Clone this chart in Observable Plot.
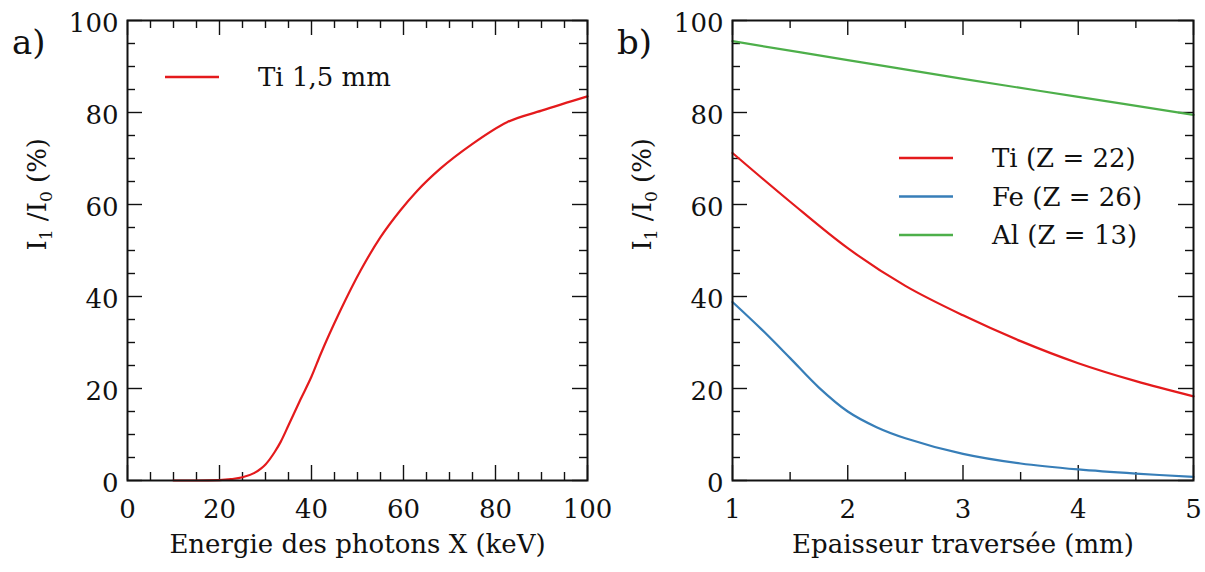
<!DOCTYPE html>
<html><head><meta charset="utf-8">
<script src="https://cdn.jsdelivr.net/npm/d3@7"></script>
<script src="https://cdn.jsdelivr.net/npm/@observablehq/plot@0.6"></script>
<style>
body{margin:0;background:#fff}
#wrap{position:relative;width:1205px;height:572px;overflow:hidden}
#wrap svg{position:absolute;top:0;overflow:visible}
</style>
</head><body><div id="wrap"></div>
<script>
// ---- data ----
const energyKeV = [10, 15, 20, 22.5, 25, 27.5, 29, 30, 32, 33.3, 35, 37.6, 40, 42, 46.3, 50.7, 55, 59.3, 63, 68, 75, 82.5, 90, 100];
const tiTransmission = [0, 0, 0.1, 0.3, 0.7, 1.6, 2.6, 3.5, 6.2, 8.4, 12, 17.6, 22.6, 27.5, 37, 45.7, 52.9, 58.7, 63.0, 67.8, 73.2, 77.9, 80.4, 83.5];

const thicknessTi = [1, 1.5, 2, 2.5, 3, 3.5, 4, 4.5, 5];
const ti = [71.2, 60.6, 50.5, 42.3, 35.9, 30.3, 25.5, 21.6, 18.3];
const thicknessFe = [1, 1.25, 1.5, 1.75, 2, 2.25, 2.5, 3, 3.5, 4, 4.5, 5];
const fe = [38.8, 32.9, 26.6, 20.2, 15.0, 11.6, 9.2, 5.8, 3.7, 2.4, 1.5, 0.8];
const thicknessAl = [1, 2, 3, 4, 5];
const al = [95.5, 91.4, 87.3, 83.4, 79.5];

const seriesNames = ["Ti (Z = 22)", "Fe (Z = 26)", "Al (Z = 13)"];
const seriesColors = ["#e41a1c", "#377eb8", "#4daf4a"];

const yMajor = [0, 20, 40, 60, 80, 100];
const yMinor = [5, 10, 15, 25, 30, 35, 45, 50, 55, 65, 70, 75, 85, 90, 95];
const xMajorA = [0, 20, 40, 60, 80, 100];
const xMinorA = [5, 10, 15, 25, 30, 35, 45, 50, 55, 65, 70, 75, 85, 90, 95];
const xMajorB = [1, 2, 3, 4, 5];
const xMinorB = [1.5, 2.5, 3.5, 4.5];

// y label pieces: [text, isSubscript]
const yLabelParts = [["I", false], ["1", true], [" /I", false], ["0", true], [" (%)", false]];
const yLabel = "I1 /I0 (%)";
const xLabelA = "Energie des photons X (keV)";
const xLabelB = "Epaisseur traversée (mm)";
const legendA = ["Ti 1,5 mm"];
const panelLabels = ["a)", "b)"];

const FONT = "DejaVu Serif";
const H = 572, MT = 20, MB = 92;
const IH = H - MT - MB;
const MAJ = 15, MIN = 8;

function tickMarks(xMaj, xMin, IW) {
  const s = {stroke: "#111", strokeWidth: 1.4};
  return [
    Plot.ruleX(xMaj, {x: d => d, insetTop: IH - MAJ, ...s}),
    Plot.ruleX(xMaj, {x: d => d, insetBottom: IH - MAJ, ...s}),
    Plot.ruleX(xMin, {x: d => d, insetTop: IH - MIN, ...s}),
    Plot.ruleX(xMin, {x: d => d, insetBottom: IH - MIN, ...s}),
    Plot.ruleY(yMajor, {y: d => d, insetRight: IW - MAJ, ...s}),
    Plot.ruleY(yMajor, {y: d => d, insetLeft: IW - MAJ, ...s}),
    Plot.ruleY(yMinor, {y: d => d, insetRight: IW - MIN, ...s}),
    Plot.ruleY(yMinor, {y: d => d, insetLeft: IW - MIN, ...s})
  ];
}

function common(xMaj, xLabel) {
  return [
    Plot.axisX({ticks: xMaj, tickSize: 0, tickPadding: 19, fontSize: 26, label: null, tickFormat: d => String(d)}),
    Plot.axisY({ticks: yMajor, tickSize: 0, tickPadding: 9, dy: 3, fontSize: 26, label: null}),
    Plot.text([xLabel], {text: d => d, frameAnchor: "bottom", dy: 72, fontSize: 26, fill: "#111"}),
    Plot.text([yLabel], {text: d => d, frameAnchor: "left", dx: -90, rotate: -90, fontSize: 26, fill: "#111", className: "ylab"}),
    Plot.frame({stroke: "#111", strokeWidth: 2})
  ];
}

// panel a
const WA = 602, MLA = 127, MRA = 15;
const IWA = WA - MLA - MRA;
const dataA = energyKeV.map((e, i) => ({x: e, y: tiTransmission[i]}));
const plotA = Plot.plot({
  width: WA, height: H, marginLeft: MLA, marginRight: MRA, marginTop: MT, marginBottom: MB,
  style: {fontFamily: FONT, fontSize: "26px", color: "#111", background: "white", overflow: "visible"},
  x: {domain: [0, 100]},
  y: {domain: [0, 100]},
  marks: [
    ...tickMarks(xMajorA, xMinorA, IWA),
    Plot.line(dataA, {x: "x", y: "y", stroke: seriesColors[0], strokeWidth: 2.2, curve: "monotone-x"}),
    ...common(xMajorA, xLabelA)
  ]
});

// panel b
const WB = 603, MLB = 130, MRB = 12;
const IWB = WB - MLB - MRB;
const dataB = [
  ...thicknessTi.map((t, i) => ({x: t, y: ti[i], s: seriesNames[0]})),
  ...thicknessFe.map((t, i) => ({x: t, y: fe[i], s: seriesNames[1]})),
  ...thicknessAl.map((t, i) => ({x: t, y: al[i], s: seriesNames[2]}))
];
const plotB = Plot.plot({
  width: WB, height: H, marginLeft: MLB, marginRight: MRB, marginTop: MT, marginBottom: MB,
  style: {fontFamily: FONT, fontSize: "26px", color: "#111", background: "transparent", overflow: "visible"},
  x: {domain: [1, 5]},
  y: {domain: [0, 100]},
  color: {domain: seriesNames, range: seriesColors},
  marks: [
    ...tickMarks(xMajorB, xMinorB, IWB),
    Plot.line(dataB, {x: "x", y: "y", z: "s", stroke: "s", strokeWidth: 2.2, curve: "catmull-rom"}),
    ...common(xMajorB, xLabelB)
  ]
});

plotA.style.left = "0px";
plotB.style.left = "602px";
const wrap = document.getElementById("wrap");
wrap.appendChild(plotA);
wrap.appendChild(plotB);

// y labels with real subscripts
[plotA, plotB].forEach(svg => {
  d3.select(svg).selectAll("text").filter(function() { return this.textContent === yLabel; })
    .each(function() {
      const t = d3.select(this);
      t.text(null);
      yLabelParts.forEach(([s, sub], i) => {
        const sp = t.append("tspan").text(s);
        if (sub) sp.attr("font-size", 17).attr("dy", 6);
        else if (i > 0) sp.attr("dy", -6);
      });
    });
});

// panel labels and legends drawn into the SVGs
function addText(svg, x, y, txt, size) {
  d3.select(svg).append("text").attr("x", x).attr("y", y).attr("text-anchor", "start")
    .attr("font-family", FONT).attr("font-size", size).attr("fill", "#111")
    .text(txt);
}
function addLegendRow(svg, x0, y, color, txt) {
  d3.select(svg).append("line").attr("x1", x0).attr("x2", x0 + 54).attr("y1", y).attr("y2", y)
    .attr("stroke", color).attr("stroke-width", 2.4);
  d3.select(svg).append("text").attr("x", x0 + 93).attr("y", y).attr("dy", "0.36em").attr("text-anchor", "start")
    .attr("font-family", FONT).attr("font-size", 26).attr("fill", "#111").text(txt);
}
addText(plotA, 12, 54, panelLabels[0], 34);
addText(plotB, 15, 54, panelLabels[1], 34);
addLegendRow(plotA, 165, 77, seriesColors[0], legendA[0]);
seriesNames.forEach((n, i) => addLegendRow(plotB, 297, 158 + i * 38.5, seriesColors[i], n));
</script>
</body></html>
